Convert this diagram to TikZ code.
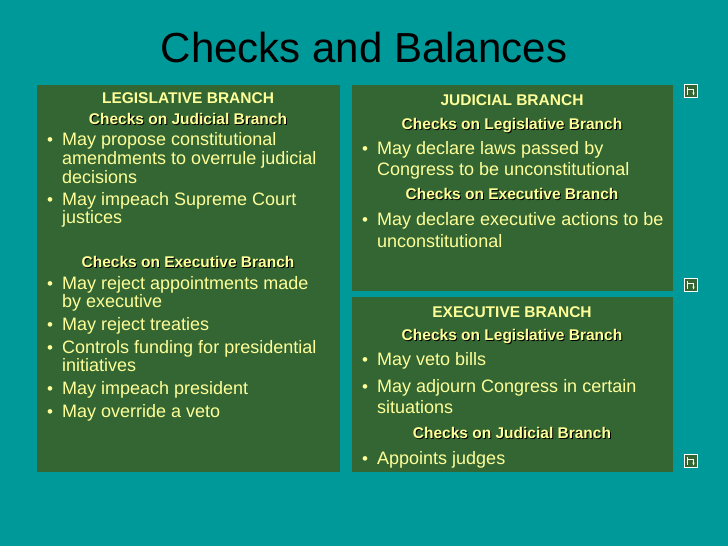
\documentclass[tikz,border=0pt]{standalone}
\usepackage{fontspec}
\setmainfont{Liberation Sans}
\usetikzlibrary{calc,arrows.meta}
\definecolor{bg}{HTML}{009999}
\definecolor{box}{HTML}{336633}
\definecolor{txt}{HTML}{FFFF99}
\begin{document}
\begin{tikzpicture}[x=1pt,y=-1pt,
  panel/.style={fill=box,draw=none},
  body/.style={anchor=mid west,inner sep=0,text=txt,font=\fontsize{18}{20}\selectfont},
  bul/.style={anchor=mid west,inner sep=0,text=txt,font=\fontsize{17}{20}\selectfont},
  hdr/.style={anchor=mid,inner sep=0,text=txt,font=\bfseries\fontsize{15.5}{17}\selectfont},
  icon/.style={draw=white,fill=box,line width=0.7pt,minimum size=13pt,inner sep=0}]
\fill[bg] (0,0) rectangle (728,546);
\useasboundingbox (0,0) rectangle (728,546);
\node[anchor=mid,text=black,font=\fontsize{42}{46}\selectfont] (title) at (364,60) {Checks and Balances};
\fill[panel] (37,85) rectangle (340,472);
\fill[panel] (352,85) rectangle (673,291);
\fill[panel] (352,297) rectangle (673,472);
\begin{scope}[shift={(0,4)}]
% Left
\node[hdr] (lh) at (188,97) {LEGISLATIVE BRANCH};
\node[hdr,text=black] at (189,119) {Checks on Judicial Branch};
\node[hdr] (l1) at (188,118) {Checks on Judicial Branch};
\node[bul] (a1) at (47,139) {\textbullet};
\node[body] (a1t) at (62,139) {May propose constitutional};
\node[body] (a1u) at (62,158) {amendments to overrule judicial};
\node[body] (a1v) at (62,177) {decisions};
\node[bul] (a2) at (47,199) {\textbullet};
\node[body] (a2t) at (62,199) {May impeach Supreme Court};
\node[body] (a2u) at (62,217) {justices};
\node[hdr,text=black] at (189,262) {Checks on Executive Branch};
\node[hdr] (l2) at (188,261) {Checks on Executive Branch};
\node[bul] (a3) at (47,283) {\textbullet};
\node[body] (a3t) at (62,283) {May reject appointments made};
\node[body] (a3u) at (62,301) {by executive};
\node[bul] (a4) at (47,324) {\textbullet};
\node[body] (a4t) at (62,324) {May reject treaties};
\node[bul] (a5) at (47,347) {\textbullet};
\node[body] (a5t) at (62,347) {Controls funding for presidential};
\node[body] (a5u) at (62,365) {initiatives};
\node[bul] (a6) at (47,388) {\textbullet};
\node[body] (a6t) at (62,388) {May impeach president};
\node[bul] (a7) at (47,411) {\textbullet};
\node[body] (a7t) at (62,411) {May override a veto};
% Judicial
\node[hdr] (jh) at (512,99) {JUDICIAL BRANCH};
\node[hdr,text=black] at (513,124) {Checks on Legislative Branch};
\node[hdr] (j1) at (512,123) {Checks on Legislative Branch};
\node[bul] (b1) at (362,148) {\textbullet};
\node[body] (b1t) at (377,148) {May declare laws passed by};
\node[body] (b1u) at (377,169) {Congress to be unconstitutional};
\node[hdr,text=black] at (513,194) {Checks on Executive Branch};
\node[hdr] (j2) at (512,193) {Checks on Executive Branch};
\node[bul] (b2) at (362,219) {\textbullet};
\node[body] (b2t) at (377,219) {May declare executive actions to be};
\node[body] (b2u) at (377,241) {unconstitutional};
% Executive
\node[hdr] (eh) at (512,311) {EXECUTIVE BRANCH};
\node[hdr,text=black] at (513,335) {Checks on Legislative Branch};
\node[hdr] (e1) at (512,334) {Checks on Legislative Branch};
\node[bul] (c1) at (362,359) {\textbullet};
\node[body] (c1t) at (377,359) {May veto bills};
\node[bul] (c2) at (362,386) {\textbullet};
\node[body] (c2t) at (377,386) {May adjourn Congress in certain};
\node[body] (c2u) at (377,407) {situations};
\node[hdr,text=black] at (513,433) {Checks on Judicial Branch};
\node[hdr] (e2) at (512,432) {Checks on Judicial Branch};
\node[bul] (c3) at (362,458) {\textbullet};
\node[body] (c3t) at (377,458) {Appoints judges};
\end{scope}
% icons
\foreach \n/\yy in {i1/91,i2/285,i3/461}{
  \node[icon] (\n) at (691,\yy) {};
  \draw[white,line width=1pt] ($(\n)+(-3.5,-4)$) -- ($(\n)+(-3.5,4)$);
  \draw[white,line width=1pt,-{Stealth[length=3pt]}] ($(\n)+(-3.5,-1.5)$) -- ($(\n)+(2.5,-1.5)$) -- ($(\n)+(2.5,4.5)$);
}
\end{tikzpicture}
\end{document}
